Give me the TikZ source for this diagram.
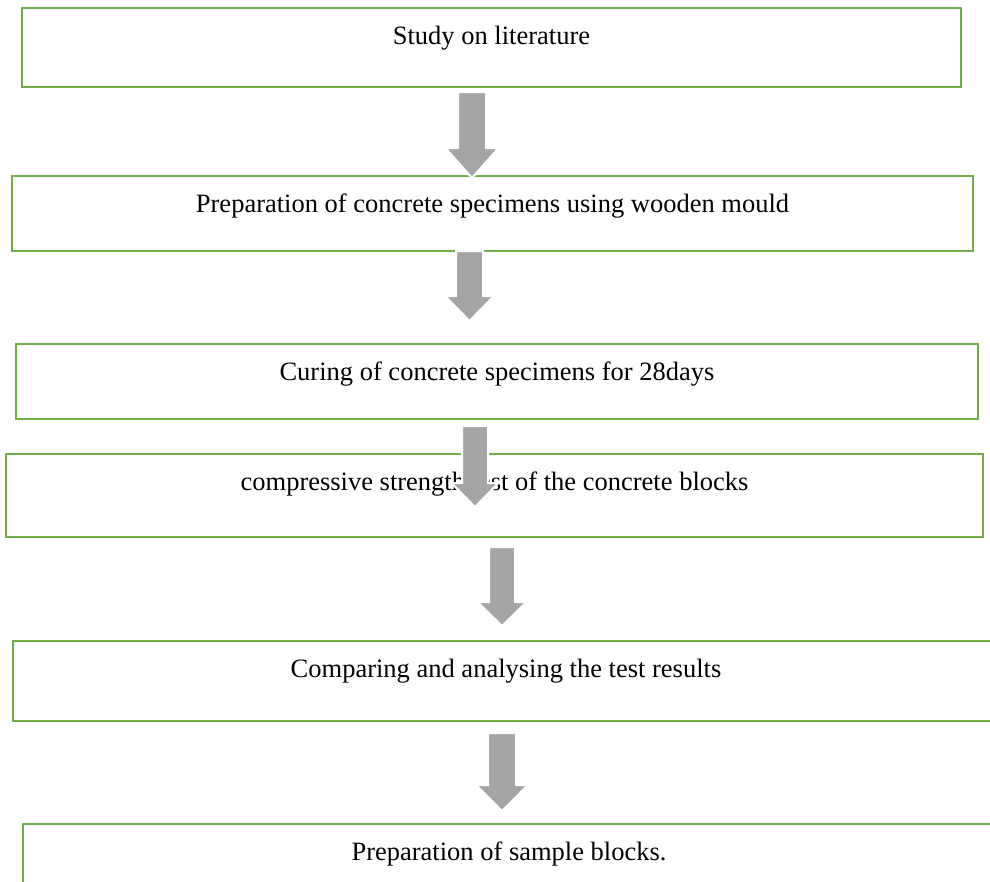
\documentclass[tikz,border=0pt]{standalone}
\usepackage{fontspec}
\setmainfont{Liberation Serif}
\definecolor{boxgreen}{HTML}{70AD47}
\definecolor{arrowgray}{HTML}{A5A5A5}
\tikzset{
    stage/.style={draw=boxgreen, line width=2.8pt, rectangle, inner sep=0pt},
    stagetext/.style={anchor=base, inner sep=0pt, font=\fontsize{26.5}{30}\selectfont},
    blockarrow/.style={fill=arrowgray, draw=white, line width=2pt, line join=miter},
}
% x, tail, neck, tip, half shaft, half head
\newcommand{\downblock}[6]{%
    \filldraw[blockarrow] (#1-#5,#2) -- (#1+#5,#2) -- (#1+#5,#3) -- (#1+#6,#3)
        -- (#1,#4) -- (#1-#6,#3) -- (#1-#5,#3) -- cycle;}
\begin{document}
\begin{tikzpicture}[x=1pt, y=-1pt]
        \useasboundingbox (0, 0) rectangle (990, 881);
        \clip (0, 0) rectangle (990, 881);
        \node[stage, minimum width=939, minimum height=79] at (491.5, 47.5) (b1) {};
        \node[stage, minimum width=961, minimum height=75] at (492.5, 213.5) (b2) {};
        \node[stage, minimum width=962, minimum height=75] at (497, 381.5) (b3) {};
        \node[stage, minimum width=977, minimum height=83] at (494.5, 495.5) (b4) {};
        \node[stage, minimum width=986, minimum height=80] at (506, 681) (b5) {};
        \node[stage, minimum width=972, minimum height=80] at (509, 864) (b6) {};
        \node[stagetext] at ([yshift=-37.5pt]b1.north) (t1) {Study on literature};
        \node[stagetext] at ([yshift=-37.5pt]b2.north) (t2) {Preparation of concrete specimens using wooden mould};
        \node[stagetext] at ([yshift=-37.5pt]b3.north) (t3) {Curing of concrete specimens for 28days};
        \node[stagetext] at ([yshift=-37.5pt]b4.north) (t4) {compressive strength test of the concrete blocks};
        \node[stagetext] at ([yshift=-37.5pt]b5.north) (t5) {Comparing and analysing the test results};
        \node[stagetext] at ([yshift=-37.5pt]b6.north) (t6) {Preparation of sample blocks.};
        % arrows between the stages
        \downblock{472}{92}{148}{178}{14}{26.5}
        \downblock{469.5}{251}{296}{321}{13.5}{24.5}
        \downblock{475}{426}{483}{507}{13}{23.5}
        \downblock{502}{547}{602}{626}{13}{24.5}
        \downblock{502}{733}{785}{811}{14}{26}
    \end{tikzpicture}
\end{document}
